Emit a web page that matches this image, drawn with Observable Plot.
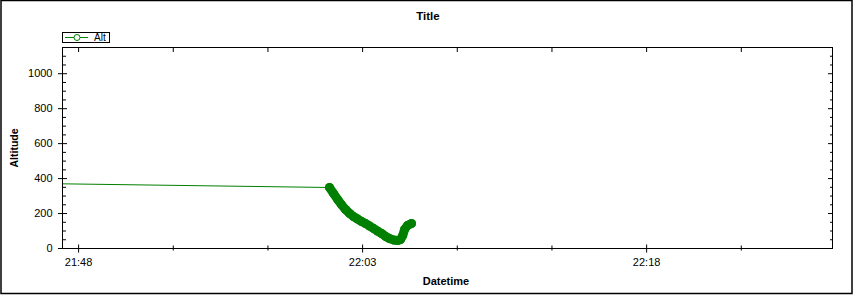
<!DOCTYPE html>
<html><head><meta charset="utf-8">
<script src="https://cdn.jsdelivr.net/npm/d3@7"></script>
<script src="https://cdn.jsdelivr.net/npm/@observablehq/plot@0.6"></script>
<style>body{margin:0;background:#fff} svg{display:block}</style>
</head><body><div id="chart"></div>
<script>
const day = "2020-01-01";
// thin leading segment
const lineTimes = ["21:47:09"];
const lineAlt = [370];
// dense track (markers)
const trackTimes = ["22:01:15","22:01:28","22:01:41","22:01:53","22:02:06","22:02:19","22:02:31","22:02:44","22:02:57","22:03:09","22:03:22","22:03:35","22:03:47","22:04:00","22:04:13","22:04:25","22:04:38","22:04:51","22:05:00","22:05:07","22:05:13","22:05:22","22:05:35"];
const trackAlt = [349,314,280,251,223,200,183,169,154,143,129,114,100,86,69,57,49,46,51,74,109,131,143];
const xDomain = ["21:47:09","22:27:49"];
const xMajor = ["21:48","22:03","22:18"];
const xTickLabels = ["21:48","22:03","22:18"];
const xMinor = ["21:53","21:58","22:08","22:13","22:23"];
const yMajor = [0,200,400,600,800,1000];
const yTickLabels = ["0","200","400","600","800","1000"];
const yMinor = [50,100,150,250,300,350,450,500,550,650,700,750,850,900,950,1050,1100,1150];
const yDomain = [0,1150];
const seriesName = "Alt";
const titleText = "Title", xLabel = "Datetime", yLabel = "Altitude";
const green = "#008000";

const T = s => new Date(`${day}T${s.length === 5 ? s + ":00" : s}Z`);
const track = trackTimes.map((t, i) => ({t: T(t), v: trackAlt[i]}));
const all = lineTimes.map((t, i) => ({t: T(t), v: lineAlt[i]})).concat(track);
const font = "Liberation Sans, Arial, sans-serif";
const none = () => "";

const plot = Plot.plot({
  width: 854, height: 295,
  marginLeft: 62, marginRight: 22, marginTop: 47, marginBottom: 47,
  style: {fontFamily: font, fontSize: "11px", background: "white", color: "black"},
  x: {type: "utc", domain: xDomain.map(T), label: null},
  y: {domain: yDomain, label: null},
  marks: [
    Plot.line(all, {x: "t", y: "v", stroke: green, strokeWidth: 1}),
    Plot.line(track, {x: "t", y: "v", stroke: green, strokeWidth: 9, strokeLinejoin: "round", strokeLinecap: "round"}),
    Plot.dot(track, {x: "t", y: "v", r: 4.5, fill: green}),
    // bottom ticks
    Plot.axisX(xMajor.map(T), {anchor: "bottom", label: null, tickSize: 8, dy: -3.5, tickFormat: none, stroke: "black"}),
    Plot.axisX(xMinor.map(T), {anchor: "bottom", label: null, tickSize: 5, dy: -2.5, tickFormat: none, stroke: "black"}),
    Plot.axisX(xMajor.map(T), {anchor: "bottom", label: null, tickSize: 0, tickPadding: 10, tickFormat: (d, i) => xTickLabels[i], fontSize: 11}),
    // top ticks (inside)
    Plot.axisX(xMajor.concat(xMinor).map(T), {anchor: "top", label: null, tickSize: 4, dy: 4, tickFormat: none, stroke: "black"}),
    // left ticks
    Plot.axisY(yMajor, {anchor: "left", label: null, tickSize: 9, dx: 5, tickFormat: none, stroke: "black"}),
    Plot.axisY(yMinor, {anchor: "left", label: null, tickSize: 4, dx: 4, tickFormat: none, stroke: "black"}),
    Plot.axisY(yMajor, {anchor: "left", label: null, tickSize: 0, tickPadding: 10, tickFormat: (d, i) => yTickLabels[i], fontSize: 11}),
    // right ticks (inside)
    Plot.axisY(yMajor, {anchor: "right", label: null, tickSize: 5, dx: -5, tickFormat: none, stroke: "black"}),
    Plot.axisY(yMinor, {anchor: "right", label: null, tickSize: 3, dx: -3, tickFormat: none, stroke: "black"}),
    Plot.frame({stroke: "black"})
  ]
});

const svg = d3.select(plot);
svg.append("rect").attr("x", 1).attr("y", 0.5).attr("width", 851).attr("height", 293)
  .attr("fill", "none").attr("stroke", "black").attr("stroke-width", 1.5);
svg.append("text").attr("x", 428).attr("y", 20).attr("text-anchor", "middle").attr("fill", "black")
  .attr("font-family", font).attr("font-size", 11.5).attr("font-weight", "bold").text(titleText);
svg.append("text").attr("x", 446).attr("y", 285).attr("text-anchor", "middle").attr("fill", "black")
  .attr("font-family", font).attr("font-size", 11).attr("font-weight", "bold").text(xLabel);
svg.append("text").attr("transform", "translate(18,148) rotate(-90)").attr("text-anchor", "middle").attr("fill", "black")
  .attr("font-family", font).attr("font-size", 10.5).attr("font-weight", "bold").text(yLabel);
// legend
const lg = svg.append("g");
lg.append("rect").attr("x", 62.5).attr("y", 32.5).attr("width", 47).attr("height", 10)
  .attr("fill", "white").attr("stroke", "black");
lg.append("line").attr("x1", 65).attr("x2", 88).attr("y1", 37.5).attr("y2", 37.5).attr("stroke", green);
lg.append("circle").attr("cx", 77).attr("cy", 37.5).attr("r", 3).attr("fill", "white").attr("stroke", green);
lg.append("text").attr("x", 94).attr("y", 41).attr("text-anchor", "start").attr("fill", "black")
  .attr("font-family", font).attr("font-size", 10).text(seriesName);

document.getElementById("chart").appendChild(plot);
</script>
</body></html>
